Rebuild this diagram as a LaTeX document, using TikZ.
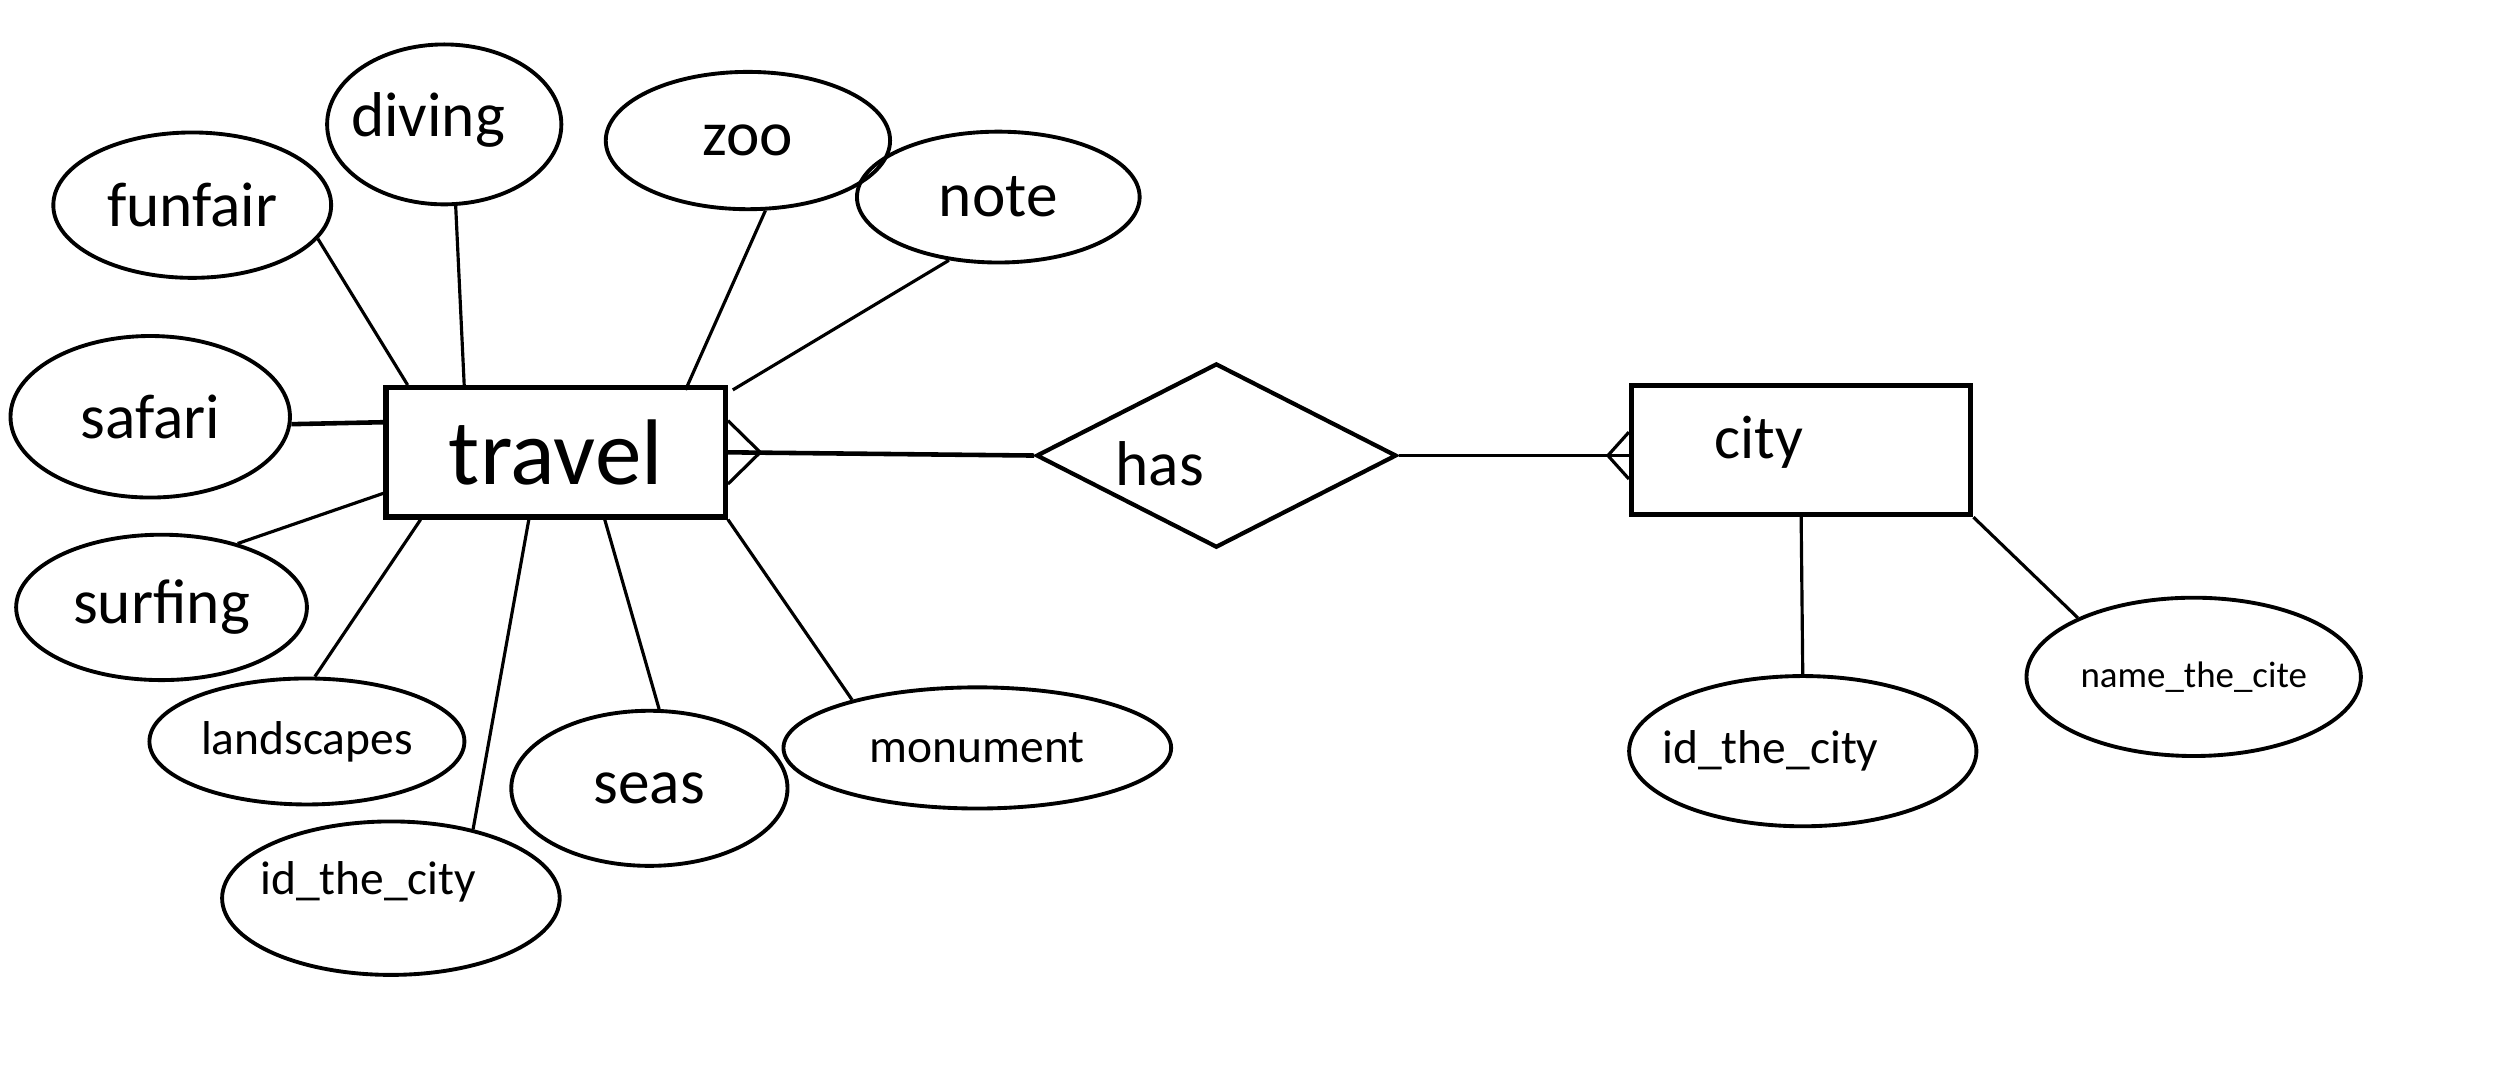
\documentclass[tikz,border=0pt]{standalone}
\usepackage{fontspec}
\setmainfont{Carlito}
\usetikzlibrary{shapes.geometric,calc}

\newcommand{\dpx}{0.01615cm}

\begin{document}
\begin{tikzpicture}[x=0.01615cm, y=-0.01615cm,
  dims/.style 2 args={minimum width=#1*\dpx, minimum height=#2*\dpx},
  entity/.style={draw, rectangle, line width=1.5pt, inner sep=0pt, dims={210}{80}},
  relation/.style={draw, diamond, line width=1.2pt, inner sep=0pt, dims={223}{114}},
  attribute/.style={draw, ellipse, line width=1.1pt, inner sep=0pt, font=\fontsize{18}{20}\selectfont},
  small attr/.style={attribute, font=\fontsize{13.5}{15}\selectfont},
  link/.style={line width=0.9pt},
  thick link/.style={line width=1.3pt}]
  \useasboundingbox[fill=white] (0,0) rectangle (1560,668.5);

  % entities and relationship
  \node[entity, font=\fontsize{26.5}{30}\selectfont] (travel) at (344,280) {travel};
  \node[entity, label={[xshift=-26*\dpx, yshift=5*\dpx, font=\fontsize{17.5}{20}\selectfont]center:city}] (city) at (1115,278.5) {};
  \node[relation, label={[xshift=-35*\dpx, yshift=-5*\dpx, font=\fontsize{18}{20}\selectfont]center:has}] (has) at (753,282) {};

  % attributes of travel
  \node[attribute, dims={172}{90}]  (funfair)  at (119,127) {funfair};
  \node[attribute, dims={145}{99}, label={[xshift=-10*\dpx, yshift=3*\dpx, font=\fontsize{18}{20}\selectfont]center:diving}] (diving) at (275,77) {};
  \node[attribute, dims={176}{85}]  (zoo)      at (463,87)  {zoo};
  \node[attribute, dims={175}{81}]  (note)     at (618,122) {note};
  \node[attribute, dims={173}{100}] (safari)   at (93,258)  {safari};
  \node[attribute, dims={180}{90}]  (surfing)  at (100,376) {surfing};
  \node[small attr, dims={195}{78}] (landscapes) at (190,459) {landscapes};
  \node[attribute, dims={209}{95}, label={[xshift=-14*\dpx, yshift=10*\dpx, font=\fontsize{13.5}{15}\selectfont]center:id\_the\_city}] (idtravel) at (242,556) {};
  \node[attribute, dims={171}{96}]  (seas)     at (402,488) {seas};
  \node[small attr, dims={240}{75}] (monument) at (605,463) {monument};

  % attributes of city
  \node[small attr, dims={215}{93}, label={[xshift=-20*\dpx, font=\fontsize{13.5}{15}\selectfont]center:id\_the\_city}] (idcity) at (1116,465) {};
  \node[attribute, dims={207}{98}, font=\fontsize{10.5}{12}\selectfont] (namecity) at (1358,419) {name\_the\_cite};

  \path[link] (funfair.-15)  edge ($(travel.north west)+(15,0)$)
              (diving.-82)   edge ($(travel.north west)+(50,0)$)
              (zoo.-76)      edge ($(travel.north west)+(187,3)$)
              (note.-128)    edge ($(travel.north east)+(3,3)$)
              (surfing.40)   edge ($(travel.north west)+(0,67)$)
              (landscapes.83) edge ($(travel.south west)+(23,0)$)
              (idtravel.40)  edge ($(travel.south west)+(90,0)$)
              (seas.83)      edge ($(travel.south west)+(137,0)$)
              (monument.159) edge (travel.south east)
              (city.south)   edge (idcity.north)
              (city.south east) edge (namecity.153)
              (has.east)     edge (has.east -| city.west);
  \path[thick link] (safari.-3) edge ($(travel.north west)+(0,23)$)
                    (travel.east) edge (has.west);

  % crow's feet
  \draw[link] ($(travel.north east)+(0,22)$) -- ($(travel.east)+(20,0)$) -- ($(travel.south east)+(0,-22)$);
  \draw[link] ($(city.west)+(0,-11)$) -- ($(city.west)+(-13,3.5)$) -- ($(city.west)+(0,18)$);
\end{tikzpicture}
\end{document}
